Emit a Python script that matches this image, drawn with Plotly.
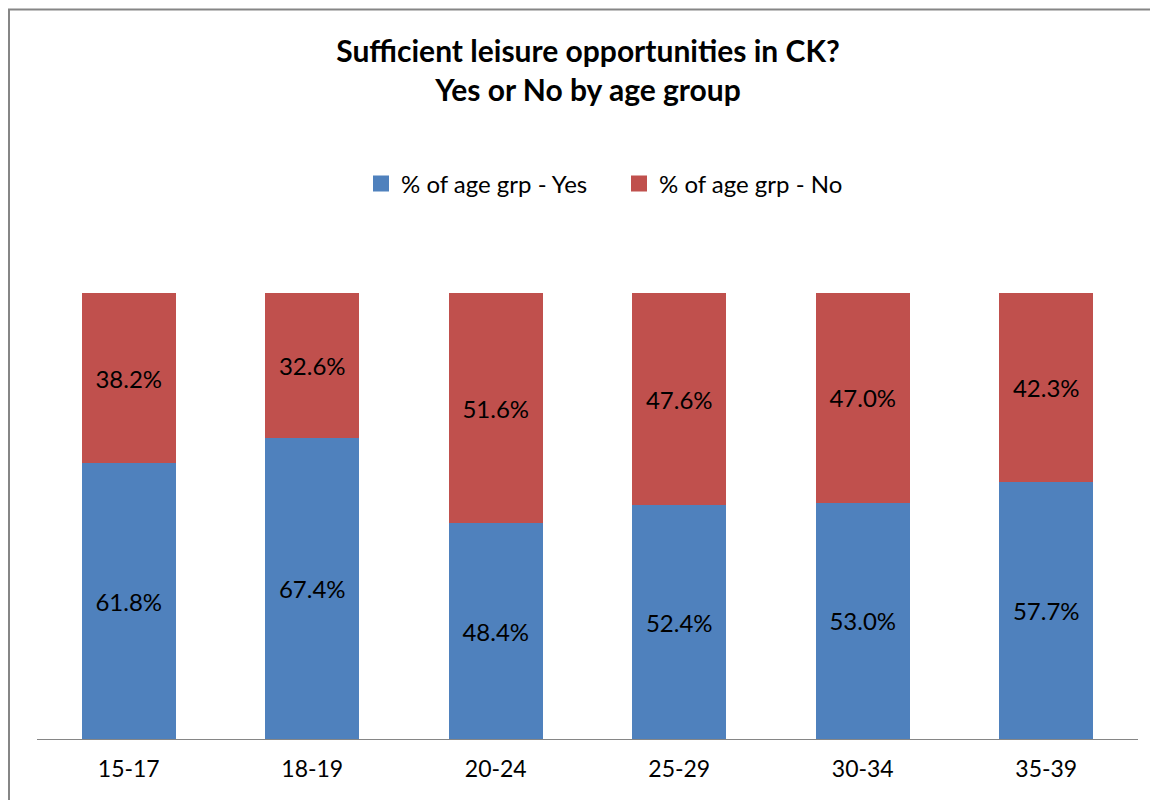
import plotly.graph_objects as go

categories = ["15-17", "18-19", "20-24", "25-29", "30-34", "35-39"]
yes_vals = [61.8, 67.4, 48.4, 52.4, 53.0, 57.7]
no_vals = [38.2, 32.6, 51.6, 47.6, 47.0, 42.3]
series_names = ["% of age grp - Yes", "% of age grp - No"]
colors = ["#4F81BD", "#C0504D"]

FONT = "Lato"
# page body has an 8px margin, so the figure is sized / positioned to compensate
OFF = 8
W, H = 1158 - OFF, 800 - OFF
ML, MR, MT, MB = 37 - OFF, 20, 293 - OFF, 800 - 739
pw = W - ML - MR
ph = H - MT - MB

def px_x(x):
    # x in reference (screen) pixels -> paper coords
    return (x - OFF - ML) / pw

def px_y(y):
    return (H - MB - (y - OFF)) / ph

fig = go.Figure()
for name, vals, col in zip(series_names, [yes_vals, no_vals], colors):
    fig.add_trace(go.Bar(
        x=categories,
        y=[v / 100 for v in vals],
        name=name,
        showlegend=False,
        marker=dict(color=col, line=dict(width=0)),
        text=[f"{v:.1f}%" for v in vals],
        textposition="inside",
        insidetextanchor="middle",
        insidetextfont=dict(family=FONT, size=24, color="black"),
        textangle=0,
        hoverinfo="skip",
    ))
    # legend-only entry with a 16px square key, as in the reference
    fig.add_trace(go.Scatter(
        x=[None], y=[None], mode="markers", name=name,
        marker=dict(symbol="square", size=16, color=col, line=dict(width=0)),
        hoverinfo="skip",
    ))

fig.update_layout(
    barmode="stack",
    bargap=0.488,
    width=W, height=H,
    margin=dict(l=ML, r=MR, t=MT, b=MB, autoexpand=False),
    paper_bgcolor="white",
    plot_bgcolor="white",
    font=dict(family=FONT, color="black"),
    title=dict(
        text="<b>Sufficient leisure opportunities in CK?<br>Yes or No by age group</b>",
        x=(588 - OFF) / W, xref="container", xanchor="center",
        y=1 - (62 - OFF) / H, yref="container", yanchor="middle",
        font=dict(family=FONT, size=30, color="black"),
    ),
    legend=dict(
        orientation="h",
        x=px_x(619), xanchor="center",
        y=px_y(184), yanchor="middle",
        font=dict(family=FONT, size=24, color="black"),
        itemsizing="trace",
        itemwidth=30,
        entrywidth=213,
        traceorder="normal",
        bgcolor="rgba(0,0,0,0)",
    ),
    xaxis=dict(
        showline=True, linecolor="#868686", linewidth=1,
        ticks="", showgrid=False,
        tickfont=dict(family=FONT, size=23, color="black"),
        ticklabelstandoff=9,
    ),
    yaxis=dict(
        range=[0, 1], visible=False, showgrid=False,
    ),
    showlegend=True,
)

fig.add_shape(
    type="rect", xref="paper", yref="paper",
    x0=px_x(9), x1=px_x(1175), y0=px_y(820), y1=px_y(9.5),
    line=dict(color="#868686", width=2), fillcolor="rgba(0,0,0,0)",
    layer="below",
)

fig.write_html("out.html")
